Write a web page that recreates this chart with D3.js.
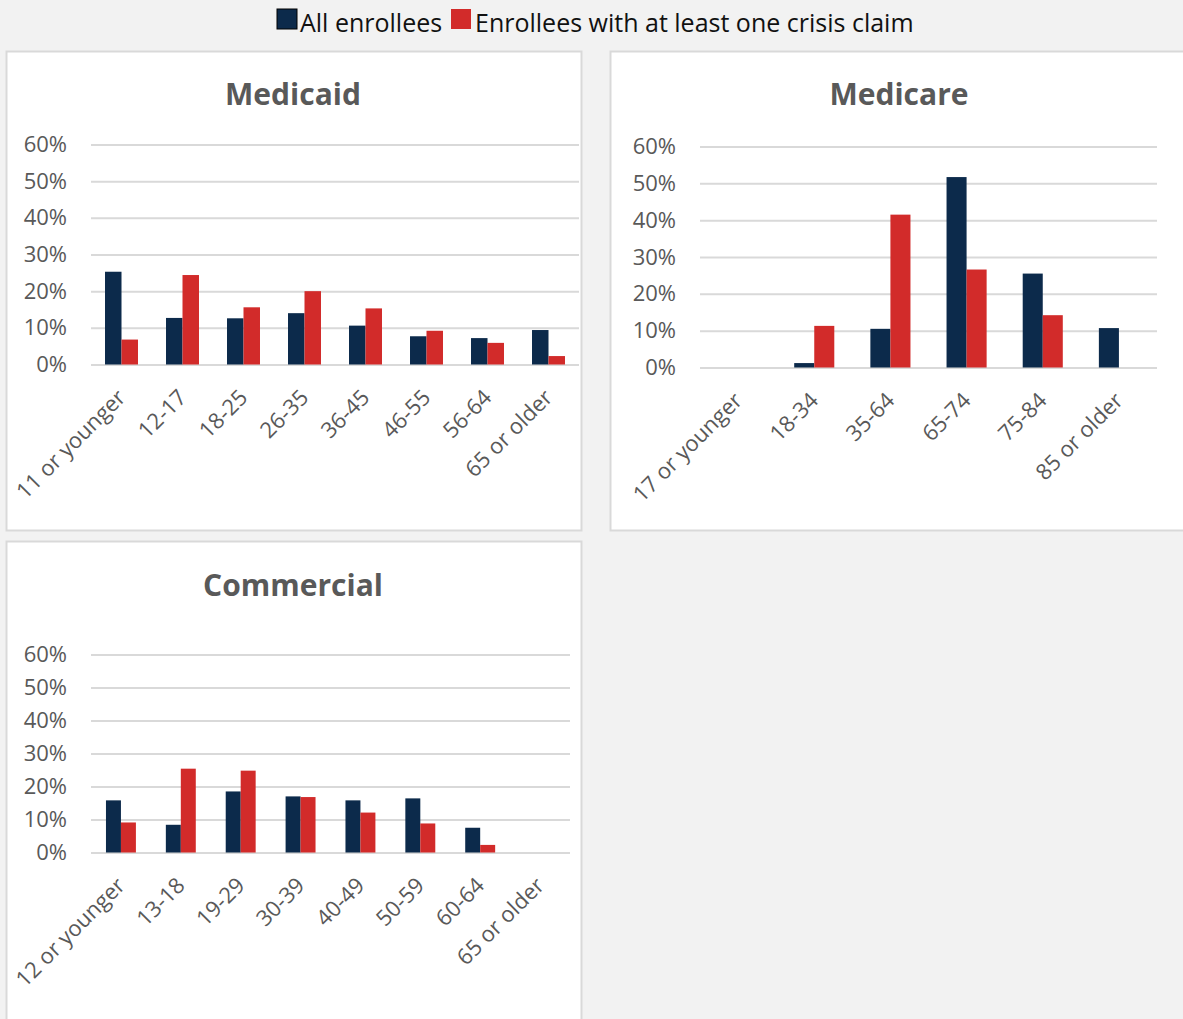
<!DOCTYPE html>
<html>
<head>
<meta charset="utf-8">
<script src="https://cdn.jsdelivr.net/npm/d3@7"></script>
<style>
  html, body { margin: 0; padding: 0; background: #f2f2f2; }
  svg { display: block; font-family: "Open Sans", "Noto Sans", sans-serif; }
</style>
</head>
<body>
<svg id="chart" width="1183" height="1019"></svg>
<script>
// Age-group share of enrollees, by payer (values in %)
const seriesNames = ["All enrollees", "Enrollees with at least one crisis claim"];
const seriesColors = ["#0c2a4b", "#d22b2a"];
const yTicks = [0, 10, 20, 30, 40, 50, 60];

const medicaidAges = ["11 or younger", "12-17", "18-25", "26-35", "36-45", "46-55", "56-64", "65 or older"];
const medicaidAll = [25.3, 12.7, 12.6, 14.0, 10.6, 7.7, 7.2, 9.4];
const medicaidCrisis = [6.8, 24.4, 15.6, 20.0, 15.3, 9.2, 5.9, 2.3];

const medicareAges = ["17 or younger", "18-34", "35-64", "65-74", "75-84", "85 or older"];
const medicareAll = [0, 1.2, 10.5, 51.7, 25.5, 10.7];
const medicareCrisis = [0, 11.3, 41.5, 26.6, 14.2, 0];

const commercialAges = ["12 or younger", "13-18", "19-29", "30-39", "40-49", "50-59", "60-64", "65 or older"];
const commercialAll = [15.8, 8.4, 18.5, 17.0, 15.8, 16.4, 7.5, 0];
const commercialCrisis = [9.1, 25.4, 24.8, 16.8, 12.1, 8.8, 2.3, 0];

const svg = d3.select("#chart");

// Legend across the top
const legend = svg.append("g");
const legendItems = [
  { x: 277, tx: 300 },
  { x: 451, tx: 475 }
];
seriesNames.forEach((name, i) => {
  legend.append("rect")
    .attr("x", legendItems[i].x).attr("y", 9)
    .attr("width", 20).attr("height", 20)
    .attr("fill", seriesColors[i])
    .attr("stroke", i === 0 ? "#000" : "none").attr("stroke-width", 1);
  legend.append("text")
    .attr("x", legendItems[i].tx).attr("y", 32)
    .attr("font-size", 25).attr("fill", "#111")
    .text(name);
});

function drawPanel(cfg) {
  const g = svg.append("g");
  g.append("rect")
    .attr("x", cfg.box[0] + 0.5).attr("y", cfg.box[1] + 0.5)
    .attr("width", cfg.box[2]).attr("height", cfg.box[3])
    .attr("fill", "#fff").attr("stroke", "#d9d9d9").attr("stroke-width", 2);

  g.append("text")
    .attr("x", cfg.titleX).attr("y", cfg.titleY)
    .attr("text-anchor", "middle")
    .attr("font-size", 30).attr("font-weight", 700).attr("fill", "#595959")
    .text(cfg.title);

  const x = d3.scaleBand().domain(cfg.ages).range([cfg.x0, cfg.x1]).paddingInner(0).paddingOuter(0);
  const y = d3.scaleLinear().domain([0, 60]).range([cfg.y0, cfg.y1]);

  // Gridlines and y-axis labels
  const yAxis = d3.axisLeft(y).tickValues(yTicks)
    .tickSize(-(cfg.x1 - cfg.x0)).tickPadding(24)
    .tickFormat(d => d + "%");
  const ya = g.append("g").attr("transform", `translate(${cfg.x0},0)`).call(yAxis)
    .attr("font-family", null).attr("font-size", null);
  ya.select(".domain").remove();
  ya.selectAll(".tick line").attr("stroke", "#d9d9d9").attr("stroke-width", 2);
  ya.selectAll(".tick text").attr("font-size", 22).attr("fill", "#595959");

  // Grouped bars
  const inner = d3.scaleBand().domain([0, 1]).range([0, x.bandwidth()]).paddingOuter(cfg.pad).paddingInner(0);
  const rows = cfg.ages.map((a, i) => ({ age: a, vals: [cfg.all[i], cfg.crisis[i]] }));
  const grp = g.selectAll(".grp").data(rows).join("g")
    .attr("transform", d => `translate(${x(d.age)},0)`);
  grp.selectAll("rect").data(d => d.vals.map((v, k) => ({ v, k }))).join("rect")
    .filter(d => d.v > 0)
    .attr("x", d => inner(d.k)).attr("width", inner.bandwidth())
    .attr("y", d => y(d.v)).attr("height", d => y(0) - y(d.v))
    .attr("fill", d => seriesColors[d.k]);

  // Rotated category labels
  const xAxis = d3.axisBottom(x).tickSize(0).tickPadding(0);
  const xa = g.append("g").attr("transform", `translate(0,${cfg.y0})`).call(xAxis)
    .attr("font-family", null).attr("font-size", null);
  xa.select(".domain").remove();
  xa.selectAll(".tick text")
    .attr("font-size", 22).attr("fill", "#595959")
    .attr("text-anchor", "end")
    .attr("transform", `translate(${cfg.lblDx},${cfg.lblDy}) rotate(-45)`)
    .attr("y", 0).attr("dy", "0.35em");
}

drawPanel({
  title: "Medicaid", box: [6, 51, 575, 479], titleX: 293, titleY: 105,
  x0: 91, x1: 579, y0: 364.5, y1: 144.5, pad: 0.85,
  ages: medicaidAges, all: medicaidAll, crisis: medicaidCrisis, lblDx: 0, lblDy: 29
});
drawPanel({
  title: "Medicare", box: [610, 51, 580, 479], titleX: 899, titleY: 105,
  x0: 700, x1: 1157, y0: 367.5, y1: 146.5, pad: 0.9,
  ages: medicareAges, all: medicareAll, crisis: medicareCrisis, lblDx: 0, lblDy: 29
});
drawPanel({
  title: "Commercial", box: [6, 541, 575, 490], titleX: 293, titleY: 596,
  x0: 91, x1: 570, y0: 852.5, y1: 654.5, pad: 1.0,
  ages: commercialAges, all: commercialAll, crisis: commercialCrisis, lblDx: 0, lblDy: 29
});
</script>
</body>
</html>
